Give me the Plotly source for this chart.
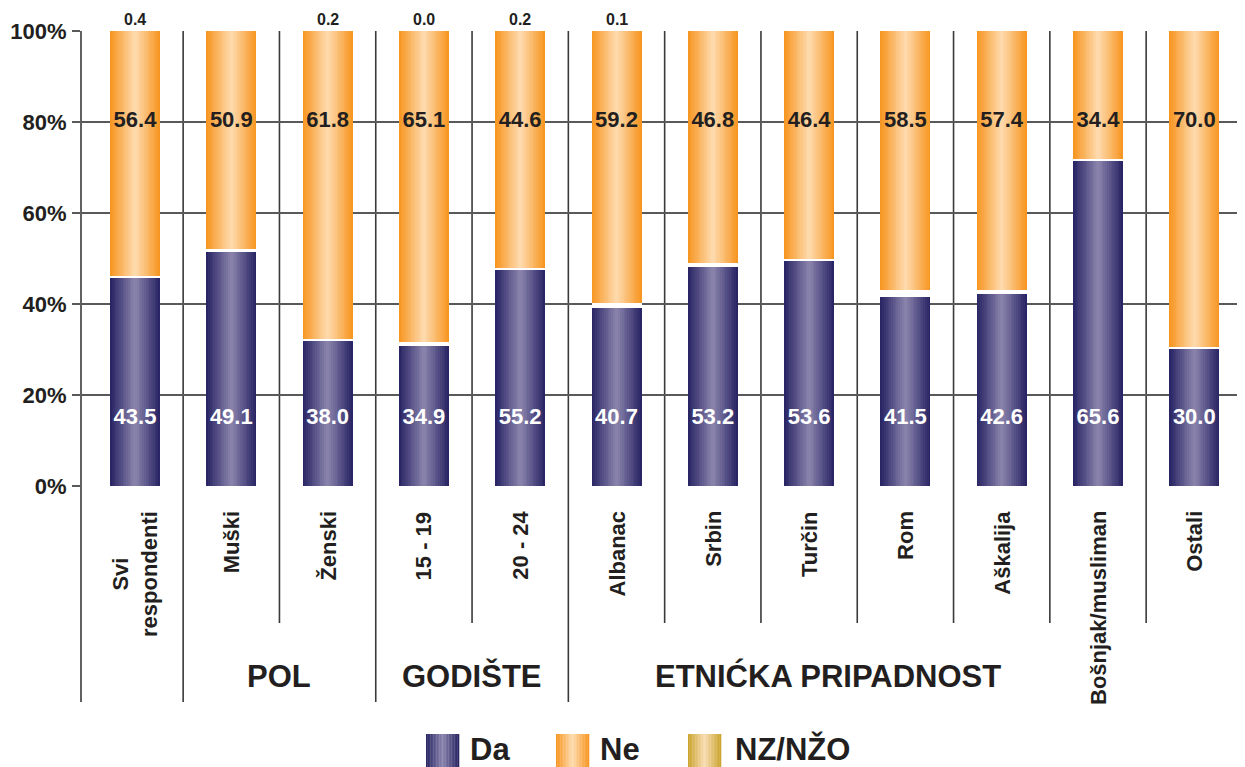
import plotly.graph_objects as go

# ---------------- data ----------------
categories = ["Svi<br>respondenti", "Muški", "Ženski", "15 - 19", "20 - 24", "Albanac",
              "Srbin", "Turčin", "Rom", "Aškalija", "Bošnjak/musliman", "Ostali"]
group_names = ["POL", "GODIŠTE", "ETNIĆKA PRIPADNOST"]
group_members = [[1, 2], [3, 4], [5, 6, 7, 8, 9, 10, 11]]

# bar heights as drawn in the picture (percent)
da_bar = [45.9, 51.5, 31.9, 30.8, 47.5, 39.2, 48.2, 49.5, 41.6, 42.3, 71.6, 30.2]
nz_bar = [0.35, 0.66, 0.30, 0.90, 0.44, 1.00, 0.90, 0.44, 1.40, 0.70, 0.30, 0.30]

# printed value labels
da_labels = ["43.5", "49.1", "38.0", "34.9", "55.2", "40.7", "53.2", "53.6", "41.5", "42.6", "65.6", "30.0"]
ne_labels = ["56.4", "50.9", "61.8", "65.1", "44.6", "59.2", "46.8", "46.4", "58.5", "57.4", "34.4", "70.0"]
nz_labels = ["0.4", "", "0.2", "0.0", "0.2", "0.1", "", "", "", "", "", ""]

series_names = ["Da", "Ne", "NZ/NŽO"]
y_ticks = [0, 20, 40, 60, 80, 100]

# ---------------- styling ----------------
DA_EDGE, DA_CENTER = "#262262", "#8c86ae"
NE_EDGE, NE_CENTER = "#f7941e", "#fedcb0"
NZ_EDGE, NZ_CENTER = "#c9a22a", "#f9ddb4"
TXT = "#231f20"
GRID = "#58595b"
SEP = "#3a3a3a"
FONT = "Liberation Sans"

OFF = 8                      # page body margin of the html page
W, H = 1245 - OFF, 767 - OFF
PL, PT, PW, PH = 81, 31, 1164, 455   # plot area in screen pixels
SPACING = 96.3               # px per category
X0 = -54 / SPACING           # left edge of plot in category units
X1 = X0 + PW / SPACING
BAR_W = 50 / SPACING
N_LAYERS = 14


def px_x(px):
    return (px - PL) / PW


def px_y(py):
    return (PT + PH - py) / PH


def hex2rgb(h):
    h = h.lstrip("#")
    return tuple(int(h[i:i + 2], 16) for i in (0, 2, 4))


def lerp(c1, c2, t):
    a, b = hex2rgb(c1), hex2rgb(c2)
    return "rgb(%d,%d,%d)" % tuple(round(a[i] + (b[i] - a[i]) * t) for i in range(3))


idx = list(range(len(categories)))
ne_base = [d + z for d, z in zip(da_bar, nz_bar)]
ne_bar = [100 - b for b in ne_base]

fig = go.Figure()


def gradient_bars(y, base, edge, center, name):
    for i in range(N_LAYERS):
        t = (i + 0.5) / N_LAYERS
        fig.add_trace(go.Bar(
            x=idx, y=y, base=base, width=BAR_W * (1 - i / N_LAYERS),
            marker=dict(color=lerp(edge, center, t), line=dict(width=0)),
            name=name, showlegend=False, hoverinfo="skip"))


gradient_bars(da_bar, [0] * len(idx), DA_EDGE, DA_CENTER, series_names[0])
fig.add_trace(go.Bar(x=idx, y=nz_bar, base=da_bar, width=BAR_W,
                     marker=dict(color="#ffffff", line=dict(width=0)),
                     name=series_names[2], showlegend=False, hoverinfo="skip"))
gradient_bars(ne_bar, ne_base, NE_EDGE, NE_CENTER, series_names[1])

# value labels
fig.add_trace(go.Scatter(x=idx, y=[14.8] * len(idx), text=da_labels, mode="text",
                         textfont=dict(family=FONT, size=22, color="white", weight="bold"),
                         showlegend=False, hoverinfo="skip", cliponaxis=False))
fig.add_trace(go.Scatter(x=idx, y=[80.1] * len(idx), text=ne_labels, mode="text",
                         textfont=dict(family=FONT, size=22, color=TXT, weight="bold"),
                         showlegend=False, hoverinfo="skip", cliponaxis=False))

shapes = []
annotations = []

for i, lab in zip(idx, nz_labels):
    if lab:
        annotations.append(dict(x=i, y=px_y(19), xref="x", yref="paper", text=lab, showarrow=False,
                                xanchor="center", yanchor="middle",
                                font=dict(family=FONT, size=16, color=TXT, weight="bold")))

# y-axis line (long)
shapes.append(dict(type="line", xref="paper", yref="paper", x0=0, x1=0, y0=1, y1=px_y(702),
                   line=dict(color=SEP, width=1.6), layer="below"))
# category separators
group_starts = {g[0] for g in group_members}
for k in range(len(categories) - 1):
    long = (k + 1) in group_starts
    shapes.append(dict(type="line", xref="x", yref="paper", x0=k + 0.5, x1=k + 0.5,
                       y0=1, y1=px_y(702 if long else 623),
                       line=dict(color=SEP, width=1.6), layer="below"))

# category labels (rotated)
for i, c in zip(idx, categories):
    annotations.append(dict(x=i, y=px_y(509), xref="x", yref="paper", text=c, showarrow=False,
                            textangle=-90, xanchor="center", yanchor="top",
                            font=dict(family=FONT, size=22, color=TXT, weight="bold")))

# group labels
group_x = [1.5, 3.5, 7.2]
for gx, gname in zip(group_x, group_names):
    annotations.append(dict(x=gx, y=px_y(676), xref="x", yref="paper", text=gname, showarrow=False,
                            xanchor="center", yanchor="middle",
                            font=dict(family=FONT, size=31, color=TXT, weight="bold")))

# manual legend with gradient swatches
legend_items = [(series_names[0], DA_EDGE, DA_CENTER, 426, 470),
                (series_names[1], NE_EDGE, NE_CENTER, 556, 600),
                (series_names[2], NZ_EDGE, NZ_CENTER, 688, 735)]
SW = 33
STRIPS = 22
for name, edge, center, sx, tx in legend_items:
    for j in range(STRIPS):
        u = (j + 0.5) / STRIPS
        t = 1 - abs(2 * u - 1)
        shapes.append(dict(type="rect", xref="paper", yref="paper",
                           x0=px_x(sx + SW * j / STRIPS), x1=px_x(sx + SW * (j + 1) / STRIPS + 0.3),
                           y0=px_y(767), y1=px_y(734),
                           fillcolor=lerp(edge, center, t), line=dict(width=0)))
    annotations.append(dict(x=px_x(tx - 2), y=px_y(749), xref="paper", yref="paper", text=name,
                            showarrow=False, xanchor="left", yanchor="middle",
                            font=dict(family=FONT, size=31, color=TXT, weight="bold")))

fig.update_layout(
    width=W, height=H,
    margin=dict(l=PL - OFF, r=W - (PL - OFF) - PW, t=PT - OFF, b=H - (PT - OFF) - PH, pad=0),
    paper_bgcolor="white", plot_bgcolor="white",
    barmode="overlay", bargap=0,
    showlegend=False,
    shapes=shapes, annotations=annotations,
    xaxis=dict(range=[X0, X1], showgrid=False, zeroline=False, showticklabels=False,
               ticks="", showline=False, fixedrange=True, automargin=False),
    yaxis=dict(range=[0, 100], tickvals=y_ticks, ticktext=[f"{v}%" for v in y_ticks],
               showgrid=True, gridcolor=GRID, gridwidth=2.2, zeroline=False, showline=False,
               ticks="outside", ticklen=8, tickwidth=2, tickcolor=GRID,
               tickfont=dict(family=FONT, size=22, color=TXT, weight="bold"),
               ticklabelstandoff=1, fixedrange=True, automargin=False),
)

fig.write_html("out.html")
